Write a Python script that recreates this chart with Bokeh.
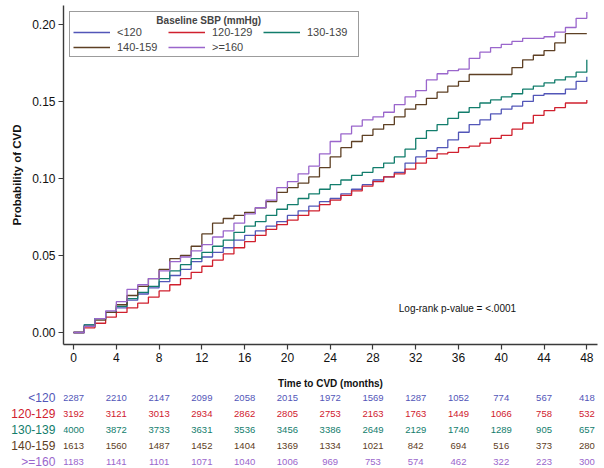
from bokeh.plotting import figure
from bokeh.models import (Range1d, Label, ColumnDataSource, FixedTicker,
                          NumeralTickFormatter)
from bokeh.layouts import column, row
from bokeh.embed import file_html
from bokeh.resources import INLINE
from bokeh.core.properties import value

FONT = "Liberation Sans"

months = list(range(49))
cvd_lt120 = [0, 0.005, 0.009, 0.013, 0.016, 0.021, 0.025, 0.029, 0.033, 0.037,
             0.041, 0.046, 0.049, 0.052, 0.055, 0.060, 0.063, 0.066, 0.069, 0.072,
             0.076, 0.079, 0.082, 0.085, 0.087, 0.090, 0.093, 0.096, 0.099, 0.101,
             0.104, 0.110, 0.114, 0.118, 0.120, 0.125, 0.130, 0.135, 0.138, 0.142,
             0.145, 0.147, 0.150, 0.154, 0.155, 0.155, 0.158, 0.163, 0.166]
cvd_120_129 = [0, 0.003, 0.006, 0.010, 0.013, 0.016, 0.019, 0.023, 0.027, 0.031,
               0.035, 0.039, 0.043, 0.047, 0.051, 0.055, 0.059, 0.063, 0.067, 0.070,
               0.073, 0.076, 0.079, 0.083, 0.086, 0.089, 0.092, 0.095, 0.098, 0.101,
               0.103, 0.106, 0.110, 0.113, 0.116, 0.117, 0.120, 0.121, 0.123, 0.126,
               0.128, 0.132, 0.136, 0.141, 0.144, 0.146, 0.149, 0.149, 0.151]
cvd_130_139 = [0, 0.005, 0.009, 0.013, 0.017, 0.022, 0.026, 0.030, 0.035, 0.040,
               0.044, 0.048, 0.052, 0.056, 0.060, 0.065, 0.069, 0.072, 0.076, 0.080,
               0.083, 0.087, 0.090, 0.093, 0.096, 0.099, 0.102, 0.104, 0.107, 0.110,
               0.114, 0.119, 0.126, 0.131, 0.135, 0.139, 0.143, 0.146, 0.149, 0.151,
               0.153, 0.155, 0.158, 0.160, 0.162, 0.164, 0.166, 0.169, 0.177]
cvd_140_159 = [0, 0.004, 0.008, 0.013, 0.018, 0.024, 0.030, 0.035, 0.041, 0.048,
               0.050, 0.056, 0.064, 0.071, 0.074, 0.076, 0.078, 0.081, 0.085, 0.091,
               0.094, 0.097, 0.101, 0.107, 0.114, 0.120, 0.124, 0.128, 0.132, 0.135,
               0.140, 0.145, 0.148, 0.152, 0.156, 0.160, 0.163, 0.1675, 0.1675, 0.1675,
               0.1675, 0.172, 0.177, 0.180, 0.183, 0.188, 0.194, 0.194, 0.194]
cvd_ge160 = [0, 0.004, 0.009, 0.014, 0.020, 0.028, 0.031, 0.035, 0.040, 0.046,
             0.049, 0.053, 0.057, 0.062, 0.066, 0.071, 0.077, 0.081, 0.086, 0.094,
             0.098, 0.103, 0.108, 0.116, 0.124, 0.129, 0.134, 0.138, 0.140, 0.143,
             0.148, 0.153, 0.157, 0.164, 0.168, 0.170, 0.171, 0.178, 0.182, 0.185,
             0.187, 0.189, 0.191, 0.191, 0.192, 0.195, 0.198, 0.204, 0.208]

groups = ["<120", "120-129", "130-139", "140-159", ">=160"]
colors = ["#5256B8", "#D0202E", "#127D6C", "#5E4024", "#9A66CC"]

tick_months = [0, 4, 8, 12, 16, 20, 24, 28, 32, 36, 40, 44, 48]
y_ticks = [0.0, 0.05, 0.10, 0.15, 0.20]

risk_lt120 = [2287, 2210, 2147, 2099, 2058, 2015, 1972, 1569, 1287, 1052, 774, 567, 418]
risk_120_129 = [3192, 3121, 3013, 2934, 2862, 2805, 2753, 2163, 1763, 1449, 1066, 758, 532]
risk_130_139 = [4000, 3872, 3733, 3631, 3536, 3456, 3386, 2649, 2129, 1740, 1289, 905, 657]
risk_140_159 = [1613, 1560, 1487, 1452, 1404, 1369, 1334, 1021, 842, 694, 516, 373, 280]
risk_ge160 = [1183, 1141, 1101, 1071, 1040, 1006, 969, 753, 574, 462, 322, 223, 300]

curves = [cvd_lt120, cvd_120_129, cvd_130_139, cvd_140_159, cvd_ge160]
risks = [risk_lt120, risk_120_129, risk_130_139, risk_140_159, risk_ge160]

W = 598
LEFT = 63
X0, X1 = -0.94, 49.0
FW = W - LEFT - 1
scale = FW / (X1 - X0)
xr = Range1d(X0, X1)

p = figure(width=W, height=392,
           x_range=xr, y_range=Range1d(-0.0078, 0.2123),
           output_backend="svg", toolbar_location=None,
           min_border_left=LEFT, min_border_right=1, min_border_top=5, min_border_bottom=48)
p.outline_line_color = None
p.xgrid.visible = False
p.ygrid.visible = False

for vals, name, col in zip(curves, groups, colors):
    p.step(months, vals, mode="after", line_color=col, line_width=1.3, legend_label=name)

for ax in (p.xaxis[0], p.yaxis[0]):
    ax.axis_line_color = "#3a3a3a"
    ax.axis_line_width = 1.4
    ax.major_tick_line_color = "#3a3a3a"
    ax.major_tick_line_width = 1.2
    ax.major_tick_out = 5
    ax.major_tick_in = 0
    ax.minor_tick_line_color = None
    ax.major_label_text_font = FONT
    ax.major_label_text_font_size = "12px"
    ax.major_label_text_color = "#111111"
    ax.major_label_standoff = 3
    ax.axis_label_text_font = FONT
    ax.axis_label_text_font_style = "bold"
    ax.axis_label_text_color = "#111111"

p.xaxis.ticker = FixedTicker(ticks=tick_months)
p.yaxis.ticker = FixedTicker(ticks=y_ticks)
p.yaxis.formatter = NumeralTickFormatter(format="0.00")
p.xaxis.axis_label = "Time to CVD (months)"
p.xaxis.axis_label_text_font_size = "10px"
p.xaxis.axis_label_standoff = 13
p.yaxis.axis_label = "Probability of CVD"
p.yaxis.axis_label_text_font_size = "11.5px"
p.yaxis.axis_label_standoff = 6

lg = p.legend[0]
lg.location = "top_left"
lg.margin = 6
lg.orientation = "horizontal"
lg.ncols = 3
lg.title = "\u00a0" * 30 + "Baseline SBP (mmHg)"
lg.title_text_font = FONT
lg.title_text_font_style = "bold"
lg.title_text_font_size = "10px"
lg.title_standoff = 0
lg.label_text_font = FONT
lg.label_text_font_size = "11px"
lg.label_height = 10
lg.glyph_height = 10
lg.glyph_width = 37
lg.label_width = 48
lg.label_standoff = 7
lg.spacing = 3
lg.padding = 3
lg.border_line_color = "#3a3a3a"
lg.border_line_width = 1.4
lg.background_fill_alpha = 1.0

p.add_layout(Label(x=35.9, y=0.0156, text="Log-rank p-value = <.0001",
                   text_font=FONT, text_font_size="10px", text_align="center",
                   text_baseline="middle", text_color="#111111"))

# number-at-risk table: group names panel + numbers panel
TH = 76
yr = Range1d(-0.4375, 4.3125)
lab = figure(width=LEFT, height=TH,
             x_range=Range1d(X0 - LEFT / scale, X0), y_range=yr,
             output_backend="svg", toolbar_location=None,
             x_axis_location=None, y_axis_location=None,
             min_border_left=0, min_border_right=0, min_border_top=0, min_border_bottom=0)
t = figure(width=W - LEFT, height=TH,
           x_range=xr, y_range=yr,
           output_backend="svg", toolbar_location=None,
           x_axis_location=None, y_axis_location=None,
           min_border_left=0, min_border_right=1, min_border_top=0, min_border_bottom=0)
for f in (lab, t):
    f.outline_line_color = None
    f.xgrid.visible = False
    f.ygrid.visible = False

xs, ys, txt, cols = [], [], [], []
lx, ly, ltxt, lcol = [], [], [], []
for i, (name, col, r) in enumerate(zip(groups, colors, risks)):
    rw = len(groups) - 1 - i
    lx.append(-1.7)
    ly.append(rw)
    ltxt.append(name)
    lcol.append(col)
    for tm, n in zip(tick_months, r):
        xs.append(tm)
        ys.append(rw)
        txt.append(str(n))
        cols.append(col)

t.text(x="x", y="y", text="t", text_color="c",
       source=ColumnDataSource(dict(x=xs, y=ys, t=txt, c=cols)),
       text_font=value(FONT), text_font_size="9.5px",
       text_align="center", text_baseline="middle")
lab.text(x="x", y="y", text="t", text_color="c",
         source=ColumnDataSource(dict(x=lx, y=ly, t=ltxt, c=lcol)),
         text_font=value(FONT), text_font_size="12px",
         text_align="right", text_baseline="middle")

layout = column(p, row(lab, t, spacing=0), spacing=0)
open("out.html", "w").write(file_html(layout, INLINE))
